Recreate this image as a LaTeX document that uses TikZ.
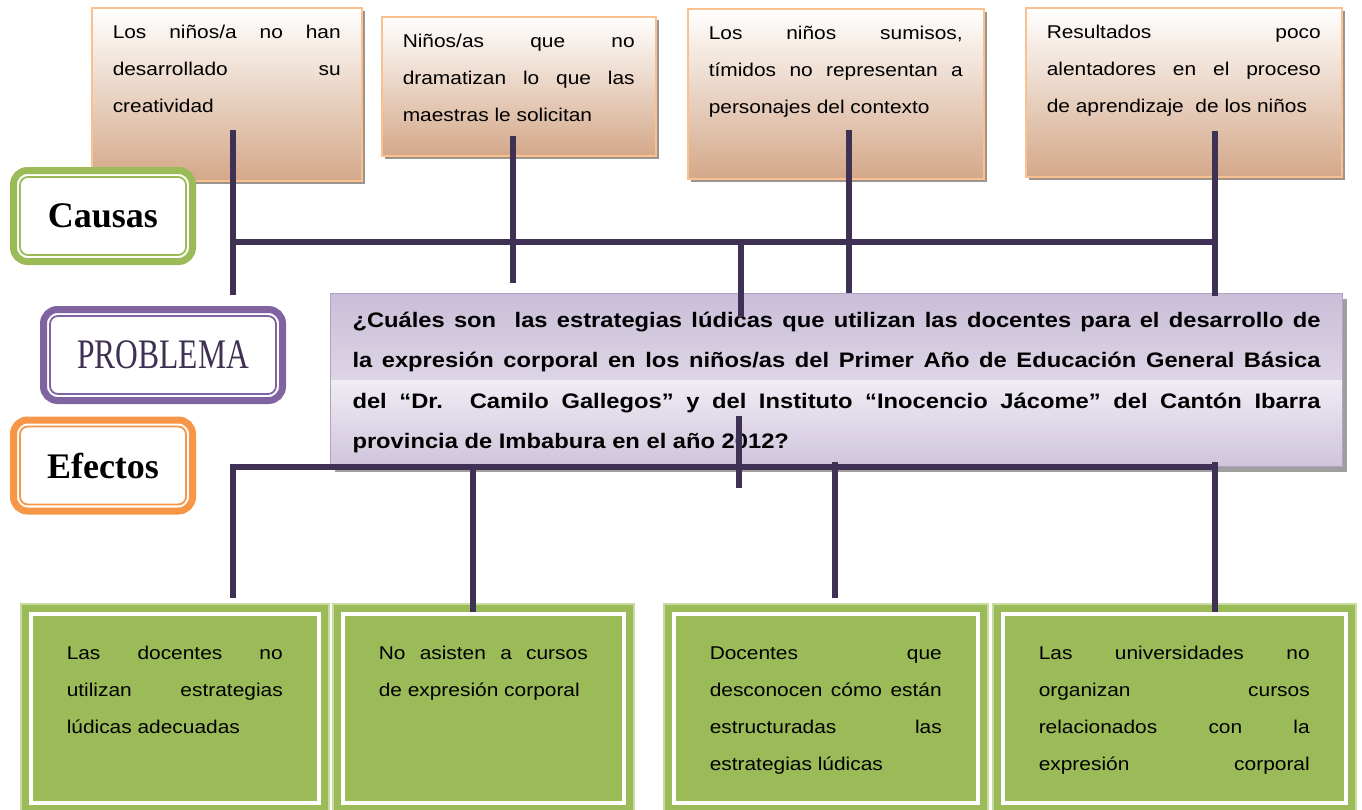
\documentclass[tikz,border=0pt]{standalone}
\usepackage{fontspec}
\setmainfont{Liberation Sans}[FakeStretch=1.13]
\newfontfamily\tagfont{Liberation Serif}
\newfontfamily\probfont{Liberation Serif}[FakeStretch=0.75]
\usepackage{xcolor}
\usepackage{tikz}
\usetikzlibrary{shadows}
\definecolor{clrLine}{RGB}{63,49,84}
\definecolor{clrPeach}{RGB}{250,192,143}
\definecolor{clrTan}{RGB}{212,168,137}
\definecolor{clrShade}{RGB}{158,148,142}
\definecolor{clrG}{RGB}{155,187,89}
\definecolor{clrGL}{RGB}{200,218,160}
\definecolor{clrP}{RGB}{128,100,162}
\definecolor{clrPL}{RGB}{178,161,199}
\definecolor{clrO}{RGB}{247,150,70}
\hyphenpenalty=10000
\exhyphenpenalty=10000
\newcommand{\boxtext}[3]{\parbox[c][#2][t]{#1}{\strut #3}}
\tikzset{
  cause/.style={rectangle,draw=clrPeach,line width=1.5pt,top color=white,
    bottom color=clrTan,anchor=north west,inner xsep=21pt,inner ysep=5pt,
    drop shadow={shadow xshift=3pt,shadow yshift=-3pt,fill=clrShade,opacity=1},
    font=\fontsize{18.5}{37}\selectfont},
  effect/.style={rectangle,draw=clrGL,line width=1.5pt,fill=clrG,
    anchor=north west,inner xsep=46pt,inner ysep=30pt,
    font=\fontsize{18.5}{37}\selectfont,
    path picture={\draw[white,line width=3.5pt]
      ([shift={(10pt,-10pt)}]path picture bounding box.north west) rectangle
      ([shift={(-10pt,10pt)}]path picture bounding box.south east);}},
  problem/.style={rectangle,draw=clrPL,line width=1pt,fill=clrP!15,
    anchor=north west,inner xsep=22pt,inner ysep=5.5pt,
    drop shadow={shadow xshift=4pt,shadow yshift=-5pt,fill=gray!75,opacity=1},
    path picture={
      \shade[top color=clrP!42,bottom color=clrP!12]
        (path picture bounding box.north west) rectangle (path picture bounding box.east);
      \shade[top color=clrP!12,bottom color=clrP!38]
        (path picture bounding box.west) rectangle (path picture bounding box.south east);},
    font=\bfseries\fontsize{21}{40.5}\selectfont},
  heading/.style={rectangle,rounded corners=14pt,draw=#1,line width=7pt,fill=white,
    minimum width=179pt,minimum height=91pt,inner sep=0pt,
    path picture={\draw[#1,line width=1.8pt,rounded corners=8pt]
      ([shift={(6.5pt,-6.5pt)}]path picture bounding box.north west) rectangle
      ([shift={(-6.5pt,6.5pt)}]path picture bounding box.south east);}},
  link/.style={draw=clrLine,line width=6pt}
}

\begin{document}
\begin{tikzpicture}[x=1pt,y=-1pt]
  \useasboundingbox (0,0) rectangle (1362,809);
  \clip (0,0) rectangle (1362,809);

  % causas
  \node[cause] (c1) at (91,7)
    {\boxtext{228pt}{163pt}{Los niños/a no han\linebreak desarrollado su\linebreak creatividad}};
  \node[cause] (c2) at (381,16)
    {\boxtext{232pt}{129pt}{Niños/as que no\linebreak dramatizan lo que las\linebreak maestras le solicitan}};
  \node[cause] (c3) at (687,8)
    {\boxtext{254pt}{160pt}{Los niños sumisos,\linebreak tímidos no representan a\linebreak personajes del contexto}};
  \node[cause] (c4) at (1025,7)
    {\boxtext{274pt}{159pt}{Resultados poco\linebreak alentadores en el proceso\linebreak de aprendizaje\ \ de los niños}};

  \node[heading=clrG] (causas) at (103,216)
    {\tagfont\bfseries\fontsize{36}{40}\selectfont Causas};
  \node[heading=clrP,minimum width=239pt,text=clrLine] (problema) at (163,355)
    {\probfont\fontsize{42}{46}\selectfont PROBLEMA};
  \node[heading=clrO] (efectos) at (103,465.5)
    {\tagfont\bfseries\fontsize{36}{40}\selectfont Efectos};

  \node[problem] (prob) at (330,293)
    {\boxtext{968pt}{162pt}{¿Cuáles son\ \ las estrategias lúdicas que utilizan las docentes para el desarrollo de\linebreak
     la expresión corporal en los niños/as del Primer Año de Educación General Básica\linebreak
     del “Dr. Camilo Gallegos” y del Instituto “Inocencio Jácome” del Cantón Ibarra\linebreak
     provincia de Imbabura en el año 2012?}};

  % efectos
  \node[effect] (e1) at (20,603)
    {\boxtext{216pt}{149pt}{Las docentes no\linebreak utilizan estrategias\linebreak lúdicas adecuadas}};
  \node[effect] (e2) at (332,603)
    {\boxtext{209pt}{149pt}{No asisten a cursos\linebreak de expresión corporal}};
  \node[effect] (e3) at (663,603)
    {\boxtext{232pt}{149pt}{Docentes que\linebreak desconocen cómo están\linebreak estructuradas las\linebreak estrategias lúdicas}};
  \node[effect] (e4) at (992,603)
    {\boxtext{271pt}{149pt}{Las universidades no\linebreak organizan cursos\linebreak relacionados con la\linebreak expresión\hfill corporal}};

  % conectores de arriba
  \coordinate (cL) at (233,242);  \coordinate (cR) at (1215,242);
  \coordinate (cM) at (741,242);  \coordinate (pT) at (741,317);
  \coordinate (c1t) at (233,130); \coordinate (c1b) at (233,295);
  \coordinate (c2t) at (513,136); \coordinate (c2b) at (513,283);
  \coordinate (c3t) at (849,130); \coordinate (c3b) at (849,293);
  \coordinate (c4t) at (1215,131); \coordinate (c4b) at (1215,296);
  \draw[link] (cL) -- (cR);
  \draw[link] (c1t) -- (c1b);
  \draw[link] (c2t) -- (c2b);
  \draw[link] (c3t) -- (c3b);
  \draw[link] (c4t) -- (c4b);
  \draw[link] (cM) -- (pT);

  % conectores de abajo
  \coordinate (eL) at (230,467);  \coordinate (eR) at (1215,467);
  \coordinate (pB) at (739,416);  \coordinate (eM) at (739,488);
  \coordinate (e1t) at (233,464); \coordinate (e1b) at (233,598);
  \coordinate (e2t) at (473,467); \coordinate (e2b) at (473,612);
  \coordinate (e3t) at (835,462); \coordinate (e3b) at (835,598);
  \coordinate (e4t) at (1215,462); \coordinate (e4b) at (1215,612);
  \draw[link] (eL) -- (eR);
  \draw[link] (e1t) -- (e1b);
  \draw[link] (e2t) -- (e2b);
  \draw[link] (e3t) -- (e3b);
  \draw[link] (e4t) -- (e4b);
  \draw[link] (pB) -- (eM);
\end{tikzpicture}
\end{document}
